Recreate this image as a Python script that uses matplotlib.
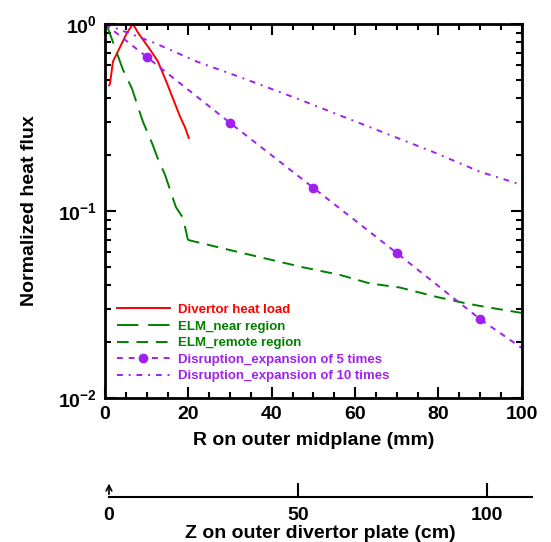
"""Normalized heat flux vs radial distance, with a divertor-plate scale below."""

import matplotlib

matplotlib.use("Agg")

import matplotlib.pyplot as plt
from matplotlib.ticker import FixedLocator, MultipleLocator, NullFormatter

plt.rcParams["font.family"] = ["Liberation Sans", "DejaVu Sans"]
plt.rcParams["font.weight"] = "bold"
plt.rcParams["mathtext.fontset"] = "custom"
plt.rcParams["mathtext.rm"] = "Liberation Sans:bold"
plt.rcParams["mathtext.bf"] = "Liberation Sans:bold"

# divertor heat load (red)
div_r = [1.0, 1.2, 1.9, 5.3, 6.7, 7.9, 10.8, 12.7, 14.9, 18.0, 19.2, 20.1]
div_q = [0.47, 0.48, 0.63, 0.90, 1.0, 0.90, 0.73, 0.63, 0.48, 0.32, 0.28, 0.246]

# ELM near region (steep part)
near_r = [0.0, 0.7, 4.3, 6.5, 7.9, 9.1, 11.3, 12.7, 14.4, 17.0, 18.7, 19.9]
near_q = [1.0, 0.95, 0.57, 0.45, 0.36, 0.30, 0.23, 0.19, 0.156, 0.105, 0.092, 0.070]

# ELM remote region (flat part)
remote_r = [19.9, 32.4, 47.5, 56.4, 63.5, 70.7, 79.6, 86.8, 91.6, 100.0]
remote_q = [0.070, 0.060, 0.050, 0.0455, 0.041, 0.039, 0.0347, 0.032, 0.0306, 0.0285]

# disruption, expansion of 5 times
dis5_r = [0.0, 10.0, 30.0, 50.0, 70.0, 90.0, 100.0]
dis5_q = [1.0, 0.667, 0.296, 0.133, 0.0596, 0.0264, 0.0185]

# disruption, expansion of 10 times
dis10_r = [0.0, 12.0, 22.0, 32.4, 46.0, 78.7, 90.0, 100.0]
dis10_q = [1.0, 0.79, 0.63, 0.52, 0.40, 0.207, 0.162, 0.138]

y_ticks = [0.01, 0.1, 1.0]
y_ticklabels = [r"$\mathbf{10^{-2}}$", r"$\mathbf{10^{-1}}$", r"$\mathbf{10^{0}}$"]
z_ticks = [0, 50, 100]
z_marks = [50, 100]

RED = "#ff0000"
GREEN = "#008000"
PURPLE = "#a020f0"

fig = plt.figure(figsize=(5.51, 5.42), dpi=100)
ax = fig.add_axes([0.1906, 0.2657, 0.7564, 0.69])

ax.plot(div_r, div_q, "-", color=RED, lw=1.4, label="Divertor heat load")
ax.plot(near_r, near_q, color=GREEN, lw=1.4, dashes=(11, 5),
        label="ELM_near region")
ax.plot(remote_r, remote_q, color=GREEN, lw=1.4, dashes=(6, 4),
        label="ELM_remote region")
ax.plot(dis5_r, dis5_q, color=PURPLE, lw=1.4, dashes=(3, 3),
        marker="o", ms=6, markevery=[1, 2, 3, 4, 5],
        label="Disruption_expansion of 5 times")
ax.plot(dis10_r, dis10_q, color=PURPLE, lw=1.4, dashes=(3, 3, 1, 3),
        label="Disruption_expansion of 10 times")

ax.set_yscale("log")
ax.set_xlim(0, 100)
ax.set_ylim(0.01, 1.0)
ax.yaxis.set_major_locator(FixedLocator(y_ticks))
ax.set_yticklabels(y_ticklabels)
ax.yaxis.set_minor_formatter(NullFormatter())
ax.xaxis.set_major_locator(MultipleLocator(20))
ax.xaxis.set_minor_locator(MultipleLocator(5))

ax.tick_params(which="both", direction="in", top=True, right=True,
               width=1.5, labelsize=14)
ax.tick_params(which="major", length=8, pad=6)
ax.tick_params(which="minor", length=4)
for spine in ax.spines.values():
    spine.set_linewidth(2)

ax.set_xlabel("R on outer midplane (mm)", fontsize=14, fontweight="bold",
              labelpad=6)
ax.set_ylabel("Normalized heat flux", fontsize=14, fontweight="bold",
              labelpad=14)

leg = ax.legend(loc="lower left", bbox_to_anchor=(0.0, 0.01), frameon=False,
                fontsize=9.5, handlelength=4.0, handletextpad=0.6,
                labelspacing=0.33, labelcolor="linecolor")
for text in leg.get_texts():
    text.set_fontweight("bold")

# secondary Z scale on the divertor plate
axz = fig.add_axes([0.1978, 0.083, 0.768, 0.03])
axz.set_xlim(0, 112)
axz.set_ylim(0, 1)
for name in ("top", "left", "right"):
    axz.spines[name].set_visible(False)
axz.spines["bottom"].set_linewidth(1.5)
axz.set_yticks([])
axz.set_xticks(z_ticks)
axz.set_xticks(z_marks, minor=True)
axz.xaxis.remove_overlapping_locs = False
axz.tick_params(axis="x", which="major", length=0, labelsize=14, pad=7)
axz.tick_params(axis="x", which="minor", direction="in", length=10, width=1.5)
axz.annotate("", xy=(0, 1.0), xytext=(0, 0),
             arrowprops=dict(arrowstyle="->", lw=1.2, color="black"))
axz.patch.set_visible(False)
axz.set_xlabel("Z on outer divertor plate (cm)", fontsize=14,
               fontweight="bold")
axz.xaxis.set_label_coords(0.5, -1.72)

fig.savefig("out.png", dpi=100)
plt.close(fig)
